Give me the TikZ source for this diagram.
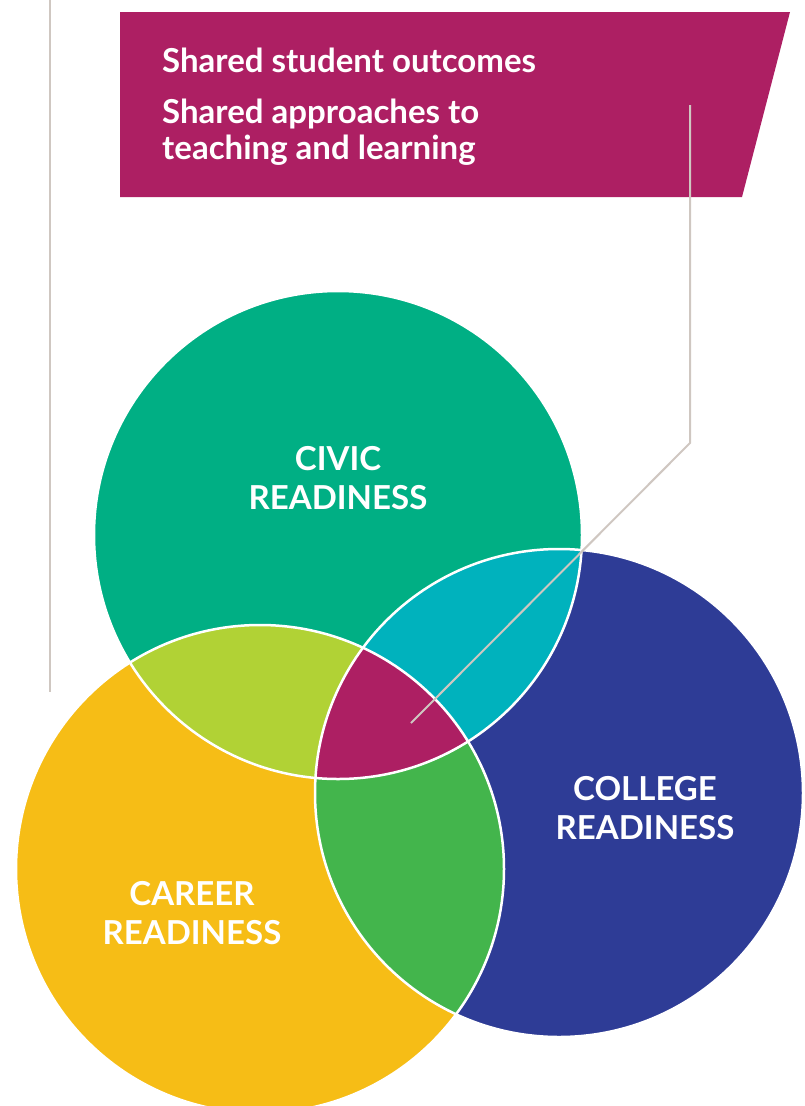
\documentclass[tikz,border=0pt]{standalone}
\usepackage{fontspec}
\setmainfont{Lato}
\definecolor{CivicC}{HTML}{00AF84}
\definecolor{CareerC}{HTML}{F6BD16}
\definecolor{CollegeC}{HTML}{2E3C96}
\definecolor{CivCarC}{HTML}{B1D235}
\definecolor{CivColC}{HTML}{00B2BD}
\definecolor{CarColC}{HTML}{43B54C}
\definecolor{SharedC}{HTML}{AD1F63}
\definecolor{LeadC}{HTML}{CFC7C1}
\usetikzlibrary{positioning}
\def\civiccircle{(338,535) circle (244pt)}
\def\careercircle{(260,869) circle (244pt)}
\def\collegecircle{(559,793) circle (244pt)}
\tikzset{%
  lead/.style={draw=LeadC, line width=2pt},
  rim/.style={draw=white, line width=2.5pt},
  zone label/.style={text=white, font=\bfseries\fontsize{33}{39}\selectfont, align=center, inner sep=0pt},
  box text/.style={text=white, font=\bfseries\fontsize{33}{36}\selectfont, align=left, inner sep=0pt, anchor=base west}
}
\begin{document}
\begin{tikzpicture}[x=1pt, y=-1pt]
 \useasboundingbox (0,0) rectangle (804,1106);

 % banner
 \fill[SharedC] (120,12) -- (790,12) -- (742,197) -- (120,197) -- cycle;
 \node[box text] (outcomes) at (162,72) {Shared student outcomes};
 \node[box text] (approaches) at (162,159) {Shared approaches to\\teaching and learning};

 % circles
 \fill[CivicC] \civiccircle;
 \fill[CareerC] \careercircle;
 \fill[CollegeC] \collegecircle;

 % civic+career, civic+college
 \begin{scope}
   \clip \civiccircle;
   \fill[CivCarC] \careercircle;
   \fill[CivColC] \collegecircle;
 \end{scope}

 % career+college, all three
 \begin{scope}
   \clip \careercircle;
   \fill[CarColC] \collegecircle;
   \clip \civiccircle;
   \fill[SharedC] \collegecircle;
 \end{scope}

 \draw[rim] \civiccircle;
 \draw[rim] \careercircle;
 \draw[rim] \collegecircle;

 \node[zone label] (civic) at (338,478) {CIVIC\\READINESS};
 \node[zone label] (college) at (645,808) {COLLEGE\\READINESS};
 \node[zone label] (career) at (192,913) {CAREER\\READINESS};

 % leader lines
 \coordinate (leftTop) at (50,0);
 \coordinate (leftEnd) at (50,692);
 \coordinate (rightTop) at (690,105);
 \coordinate (bend) at (690,443);
 \coordinate (core) at (411,723);

 \draw[lead] (leftTop) -- (leftEnd);
 \draw[lead] (rightTop) -- (bend) -- (core);

\end{tikzpicture}
\end{document}
